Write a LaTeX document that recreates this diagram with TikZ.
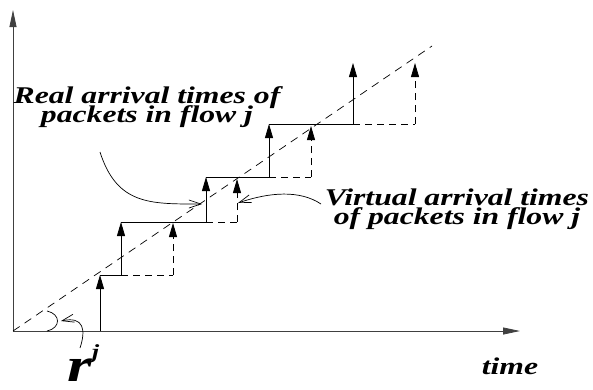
\documentclass[tikz,border=0pt]{standalone}
\usepackage{fontspec}
\setmainfont{Liberation Serif}
\newfontfamily\lblfont[FakeStretch=1.32]{Liberation Serif}
\newcommand\tightlines{\lineskiplimit=-50pt\relax\lineskip=0pt\relax}
\usetikzlibrary{arrows.meta}

\begin{document}
\begin{tikzpicture}[
        x=1pt, y=-1pt,
        axis/.style={line width=0.8pt, draw=black!75, -{Triangle[length=17pt,width=7pt]}},
        real/.style={line width=0.8pt, -{Triangle[length=14pt,width=8pt]}},
        virt/.style={line width=0.8pt, dash pattern=on 7pt off 5pt, -{Triangle[length=14pt,width=8pt]}},
        rise/.style={line width=0.8pt},
        vrise/.style={line width=0.8pt, dash pattern=on 7pt off 5pt},
        pointer/.style={line width=0.7pt, -{Straight Barb[length=12pt,width=8pt]}},
        lbl/.style={font=\lblfont\bfseries\itshape\fontsize{24}{19}\selectfont\tightlines,
            align=center, inner sep=0pt}
    ]
    \useasboundingbox (0,0) rectangle (593,389);

    % axes
    \coordinate (o) at (13,331);
    \draw[axis] (o) -- (13,10);
    \draw[axis] (o) -- (520,331);
    \draw[line width=0.7pt, dash pattern=on 8pt off 6pt] (o) -- (432,46);

    % real arrivals (solid) and virtual arrivals (dashed)
    \coordinate (r0) at (100,331);
    \coordinate (r1) at (100,275);
    \coordinate (s1) at (121,275);
    \coordinate (r2) at (121,222);
    \coordinate (s2) at (206,222);
    \coordinate (r3) at (206,177);
    \coordinate (s3) at (269,177);
    \coordinate (r4) at (269,124);
    \coordinate (s4) at (353,124);
    \coordinate (r5) at (353,63);

    \draw[real] (r0) -- (r1);
    \draw[rise] (r1) -- (s1);
    \draw[real] (s1) -- (r2);
    \draw[rise] (r2) -- (s2);
    \draw[real] (s2) -- (r3);
    \draw[rise] (r3) -- (s3);
    \draw[real] (s3) -- (r4);
    \draw[rise] (r4) -- (s4);
    \draw[real] (s4) -- (r5);

    \foreach \s/\vx/\top in {s1/173/223, s2/237/179, s3/311/126, s4/415/63}{
        \draw[vrise] (\s) -- (\vx,0 |- \s) coordinate (v\s);
        \draw[virt] (v\s) -- (\vx,\top);
    }

    % labels
    \node[lbl] (reallbl) at (147,107) {Real arrival times of\\packets in flow j};
    \node[lbl] (virtlbl) at (457,209) {Virtual arrival times\\of packets in flow j};
    \node[lbl] (timelbl) at (510,366) {time};
    \node[inner sep=0pt, anchor=base west, font=\lblfont\bfseries\itshape] (rate) at (67,381)
        {\fontsize{48}{48}\selectfont r\raisebox{23pt}{\fontsize{20}{20}\selectfont j}};

    % pointers
    \coordinate (realtip) at (202,204);
    \coordinate (virttip) at (238,203);
    \coordinate (angtip) at (61,321);
    \draw[pointer] (100,152) .. controls (117,205) and (150,204) .. (realtip);
    \draw[pointer] (321,204) .. controls (300,190) and (270,192) .. (virttip);

    % slope angle
    \draw[line width=0.7pt] (47,311) .. controls (61,314) and (61,328) .. (47,331);
    \draw[pointer] (80,348) .. controls (86,330) and (84,316) .. (angtip);
\end{tikzpicture}
\end{document}
